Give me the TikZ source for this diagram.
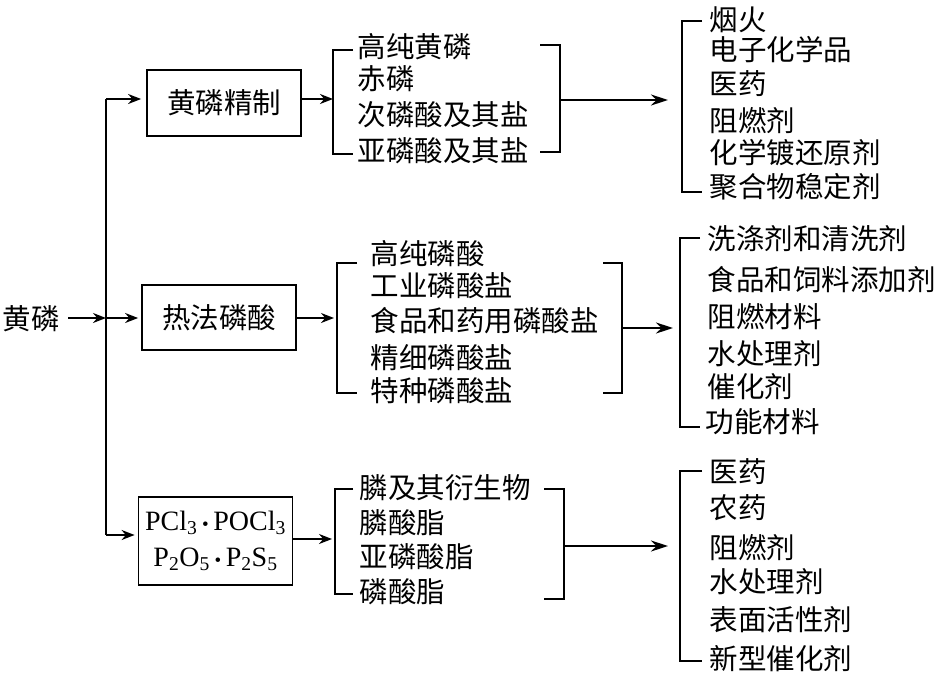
\documentclass[tikz,border=0pt]{standalone}
\usepackage{fontspec}
\setmainfont{Liberation Serif}
\newfontfamily\cjk{Noto Sans CJK SC}
\usetikzlibrary{positioning,arrows.meta}
\newcommand{\pdot}{\,{\fontsize{19}{19}\selectfont\textbullet}\,}

\begin{document}
\begin{tikzpicture}[x=1pt,y=-1pt,line width=1.8pt,
  box/.style={draw,minimum width=154pt,minimum height=66pt,inner sep=0pt,align=center,font=\cjk\fontsize{28.5}{34}\selectfont},
  item/.style={anchor=west,inner sep=0pt,font=\cjk\fontsize{28.5}{32}\selectfont},
  arr/.style={-{Stealth[length=13pt,width=10pt]}},
  big/.style={-{Stealth[length=17pt,width=11pt]}}]
\useasboundingbox (0,0) rectangle (944,680);

\node[item] (hl) at (2,319) {黄磷};
\node[box] (jz) at (224,103) {黄磷精制};
\node[box,minimum height=65pt] (rf) at (219,317.5) {热法磷酸};
\node[box,minimum height=88pt,font=\fontsize{28}{36}\selectfont] (pc) at (215.5,541)
  {PCl\textsubscript{3}\pdot POCl\textsubscript{3}\\P\textsubscript{2}O\textsubscript{5}\pdot P\textsubscript{2}S\textsubscript{5}};

\coordinate (sp) at (106,318);
\coordinate (t1) at (106,99);
\coordinate (t3) at (106,535);
\draw[arr] (hl) ++(37,-1) -- (sp);
\draw (t1) -- (t3);
\draw[arr,shorten >=5pt] (t1) -- (t1 -| jz.west);
\draw[arr,shorten >=3pt] (sp) -- (sp -| rf.west);
\draw[arr,shorten >=3pt] (t3) -- (t3 -| pc.west);

% 黄磷精制
\node[item] (a1) at (357,47) {高纯黄磷};
\node[item] (a2) at (357,79) {赤磷};
\node[item] (a3) at (357,115) {次磷酸及其盐};
\node[item] (a4) at (357,151) {亚磷酸及其盐};
\coordinate (la1) at (333,50); \coordinate (la2) at (333,154);
\coordinate (ra1) at (560,45); \coordinate (ra2) at (560,152);
\draw ([xshift=20pt]la1) -- (la1) -- (la2) -- ([xshift=20pt]la2);
\draw ([xshift=-20pt]ra1) -- (ra1) -- (ra2) -- ([xshift=-20pt]ra2);
\draw[arr] (jz.east |- t1) -- (t1 -| la1);

\node[item] (u1) at (709,20) {烟火};
\node[item] (u2) at (709,50) {电子化学品};
\node[item] (u3) at (709,84) {医药};
\node[item] (u4) at (709,121) {阻燃剂};
\node[item] (u5) at (709,153) {化学镀还原剂};
\node[item] (u6) at (709,187) {聚合物稳定剂};
\coordinate (lu1) at (682,21); \coordinate (lu2) at (682,192);
\draw ([xshift=20pt]lu1) -- (lu1) -- (lu2) -- ([xshift=20pt]lu2);
\coordinate (ma) at (560,100);
\draw[big] (ma) -- ([xshift=-14pt]ma -| lu1);

% 热法磷酸
\node[item] (b1) at (370,254) {高纯磷酸};
\node[item] (b2) at (370,286) {工业磷酸盐};
\node[item] (b3) at (370,321) {食品和药用磷酸盐};
\node[item] (b4) at (370,358) {精细磷酸盐};
\node[item] (b5) at (370,391) {特种磷酸盐};
\coordinate (lb1) at (337,263); \coordinate (lb2) at (337,393);
\coordinate (rb1) at (622,263); \coordinate (rb2) at (622,393);
\draw ([xshift=20pt]lb1) -- (lb1) -- (lb2) -- ([xshift=20pt]lb2);
\draw ([xshift=-19pt]rb1) -- (rb1) -- (rb2) -- ([xshift=-19pt]rb2);
\draw[arr,shorten >=3pt] (rf.east |- sp) -- (sp -| lb1);

\node[item] (v1) at (707,239) {洗涤剂和清洗剂};
\node[item] (v2) at (707,280) {食品和饲料添加剂};
\node[item] (v3) at (707,317) {阻燃材料};
\node[item] (v4) at (707,354) {水处理剂};
\node[item] (v5) at (707,387) {催化剂};
\node[item] (v6) at (705,422) {功能材料};
\coordinate (lv1) at (680,238); \coordinate (lv2) at (680,427);
\draw ([xshift=20pt]lv1) -- (lv1) -- (lv2) -- ([xshift=20pt]lv2);
\coordinate (mb) at (622,328);
\draw[big] (mb) -- ([xshift=-7pt]mb -| lv1);

% PCl3 etc.
\node[item] (c1) at (359,488) {膦及其衍生物};
\node[item] (c2) at (359,523) {膦酸脂};
\node[item] (c3) at (359,557) {亚磷酸脂};
\node[item] (c4) at (359,592) {磷酸脂};
\coordinate (lc1) at (335,489); \coordinate (lc2) at (335,594);
\coordinate (rc1) at (564,489); \coordinate (rc2) at (564,599);
\draw ([xshift=18pt]lc1) -- (lc1) -- (lc2) -- ([xshift=18pt]lc2);
\draw ([xshift=-20pt]rc1) -- (rc1) -- (rc2) -- ([xshift=-20pt]rc2);
\coordinate (mc0) at (293,539);
\draw[arr,shorten >=3pt] (pc.east |- mc0) -- (mc0 -| lc1);

\node[item] (w1) at (709,472) {医药};
\node[item] (w2) at (709,508) {农药};
\node[item] (w3) at (709,548) {阻燃剂};
\node[item] (w4) at (709,582) {水处理剂};
\node[item] (w5) at (709,620) {表面活性剂};
\node[item] (w6) at (709,659) {新型催化剂};
\coordinate (lw1) at (680,471); \coordinate (lw2) at (680,661);
\draw ([xshift=22pt]lw1) -- (lw1) -- (lw2) -- ([xshift=22pt]lw2);
\coordinate (mc) at (564,546);
\draw[big] (mc) -- ([xshift=-12pt]mc -| lw1);
\end{tikzpicture}
\end{document}
